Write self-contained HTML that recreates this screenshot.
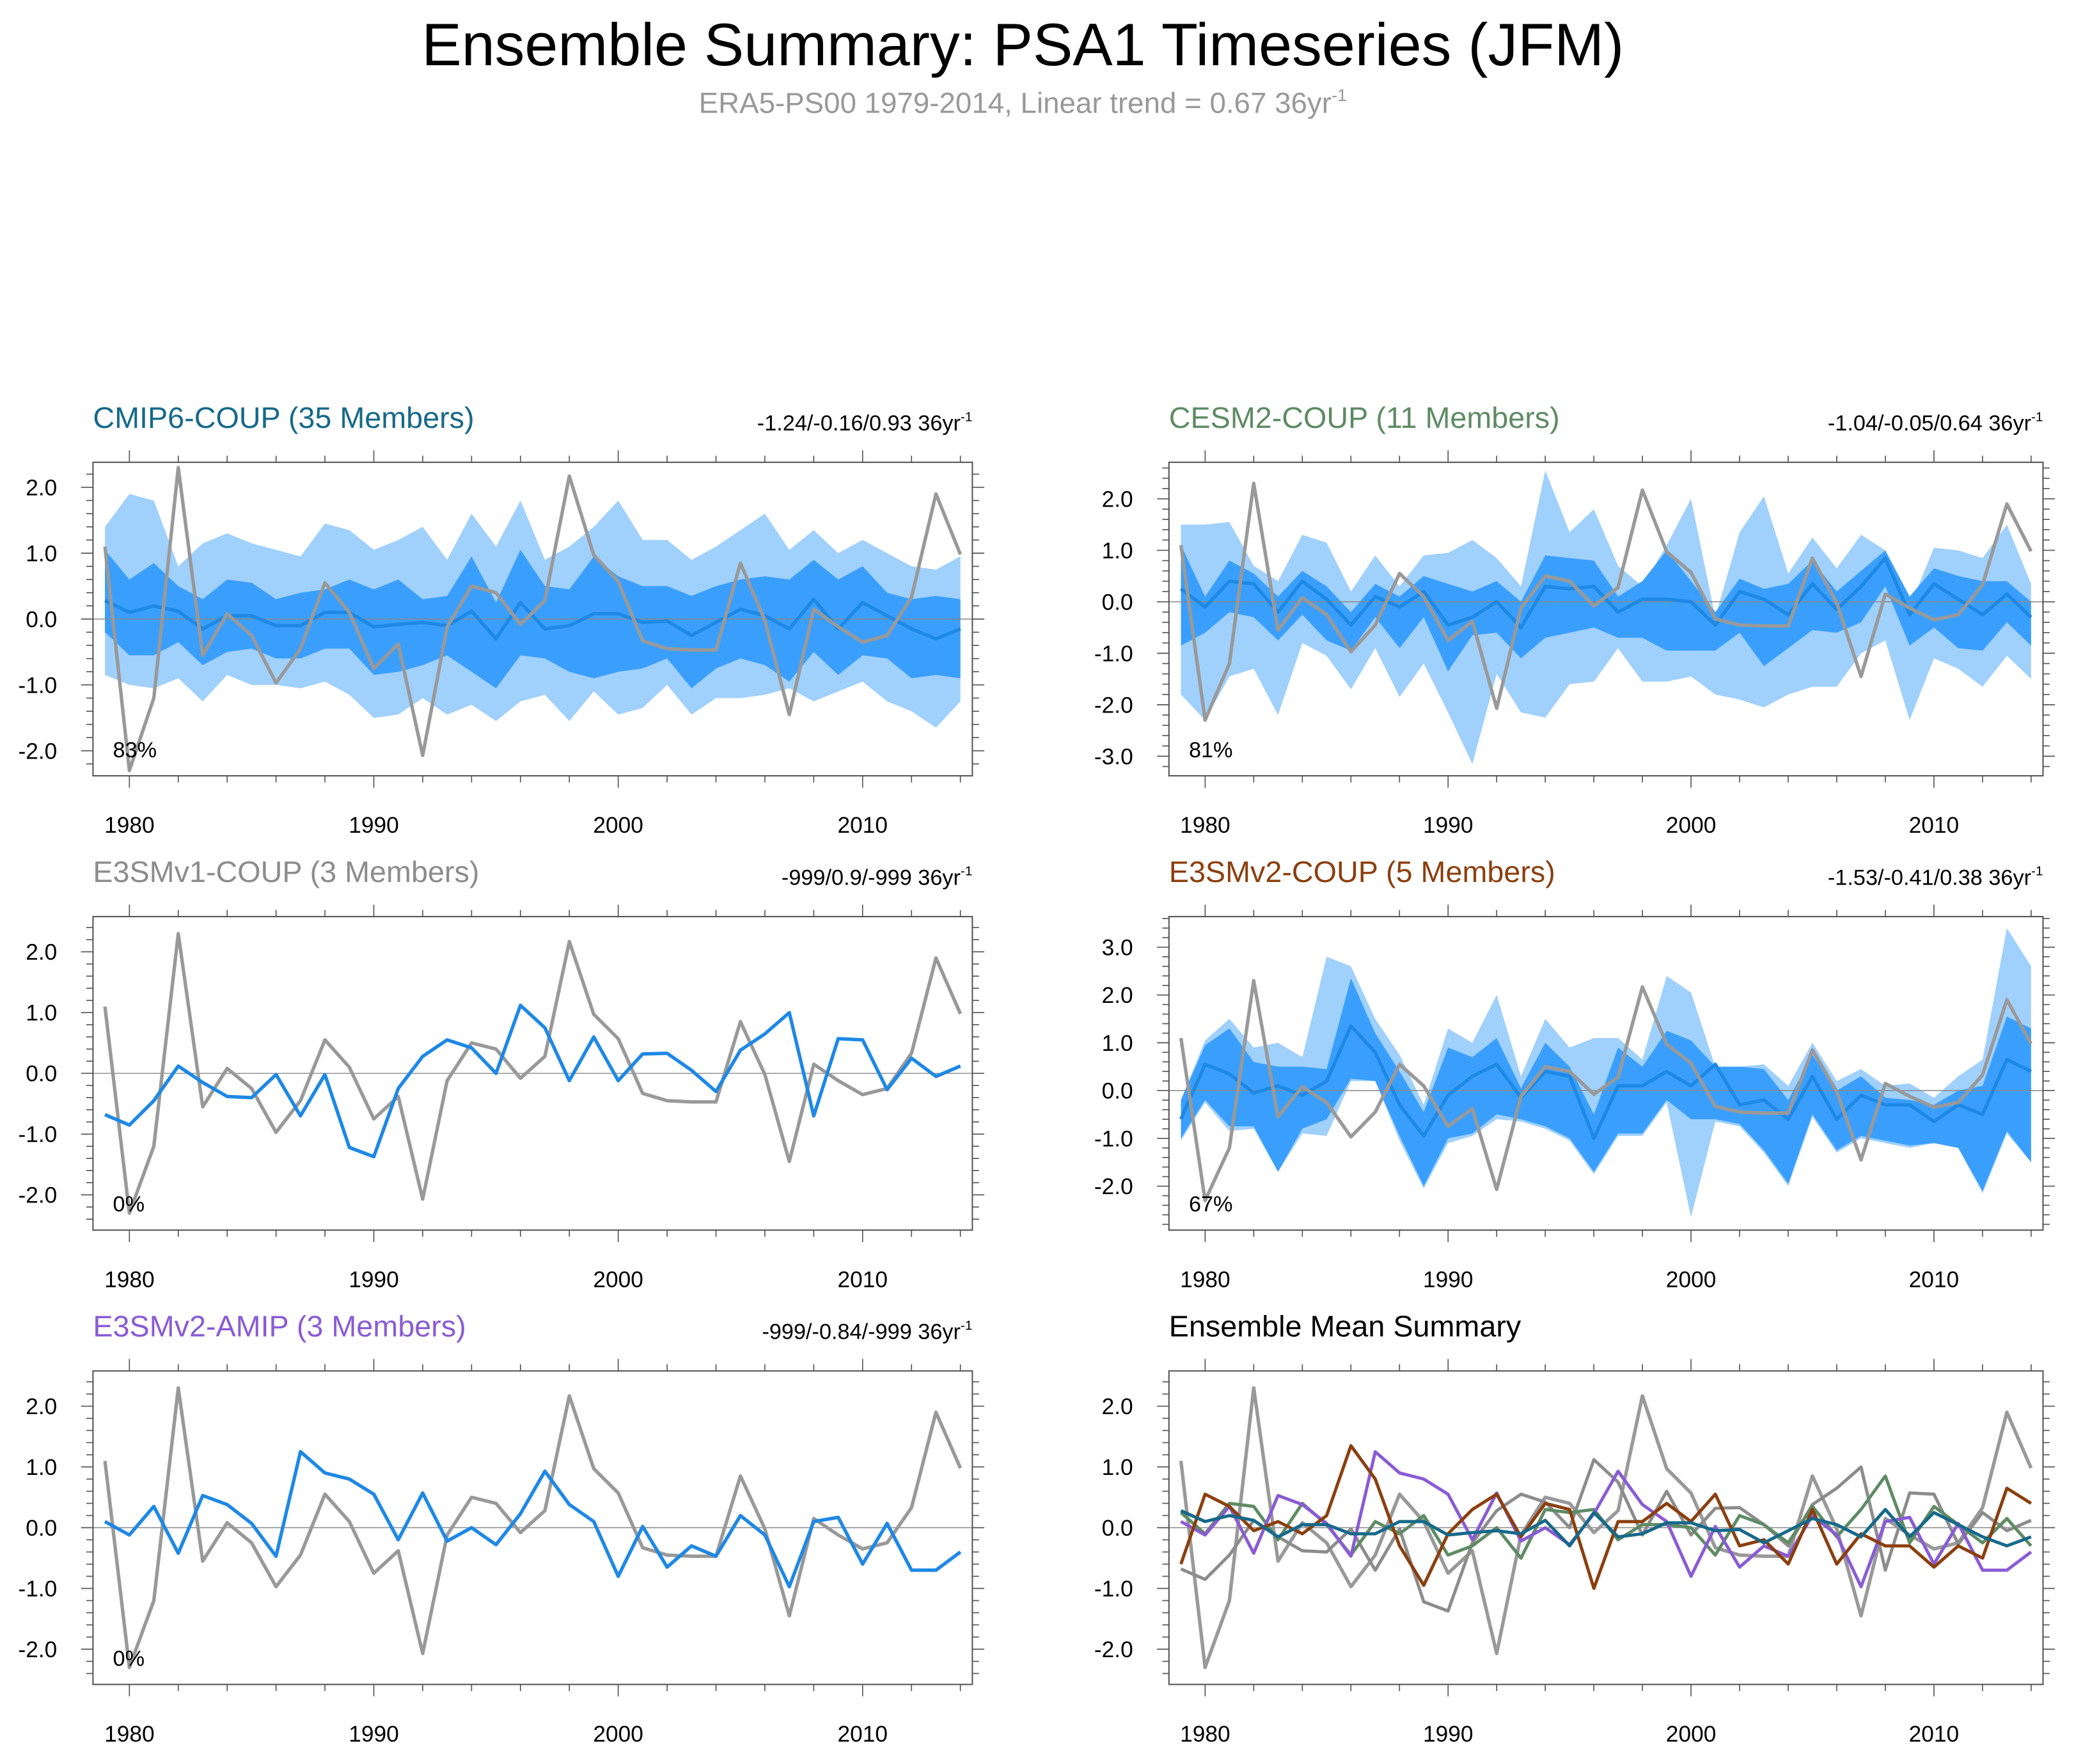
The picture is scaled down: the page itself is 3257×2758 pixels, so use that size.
<!DOCTYPE html>
<html><head><meta charset="utf-8"><style>
html,body{margin:0;padding:0;background:#fff}
svg{display:block}
text{font-family:"Liberation Sans",sans-serif}
</style></head><body>
<svg id="chart" width="3257" height="2758" viewBox="0 0 1568.1 1327.9" preserveAspectRatio="none" xmlns="http://www.w3.org/2000/svg">
<text x="770" y="49" text-anchor="middle" font-size="45" fill="#000">Ensemble Summary: PSA1 Timeseries (JFM)</text>
<text x="770" y="85" text-anchor="middle" font-size="22" fill="#999">ERA5-PS00 1979-2014, Linear trend = 0.67 36yr<tspan dy="-9" font-size="13">-1</tspan></text>
</svg>
<script>
const years = [];
for (let y = 1979; y <= 2014; y++) years.push(y);
const obs = [1.1,-2.3,-1.2,2.3,-0.55,0.08,-0.25,-0.97,-0.45,0.55,0.1,-0.75,-0.38,-2.07,-0.12,0.5,0.4,-0.08,0.28,2.17,0.97,0.57,-0.33,-0.45,-0.47,-0.47,0.85,-0.02,-1.45,0.15,-0.12,-0.35,-0.25,0.33,1.9,0.98];
const cmipMean = [0.28,0.1,0.2,0.12,-0.15,0.05,0.05,-0.1,-0.1,0.1,0.1,-0.12,-0.08,-0.05,-0.1,0.12,-0.3,0.25,-0.15,-0.1,0.08,0.08,-0.05,-0.03,-0.25,-0.05,0.15,0.05,-0.15,0.3,-0.15,0.25,0.05,-0.15,-0.3,-0.15];
const cmipOutHi = [1.4,1.9,1.8,0.8,1.15,1.3,1.15,1.05,0.95,1.45,1.35,1.05,1.2,1.4,0.9,1.6,1.1,1.8,0.9,1.1,1.4,1.8,1.2,1.2,0.9,1.1,1.35,1.6,1.05,1.35,1.0,1.2,1.0,0.8,0.75,0.95];
const cmipOutLo = [-0.85,-1.0,-1.05,-0.9,-1.25,-0.85,-1.0,-1.0,-1.05,-0.95,-1.15,-1.5,-1.45,-1.2,-1.45,-1.3,-1.55,-1.25,-1.15,-1.55,-1.1,-1.45,-1.35,-1.0,-1.45,-1.2,-1.2,-1.15,-1.05,-1.25,-1.1,-0.95,-1.25,-1.4,-1.65,-1.25];
const cmipInHi = [1.05,0.6,0.85,0.5,0.3,0.6,0.55,0.3,0.4,0.45,0.6,0.45,0.6,0.3,0.35,0.95,0.25,1.05,0.5,0.45,0.95,0.65,0.5,0.5,0.35,0.5,0.6,0.65,0.6,0.9,0.6,0.8,0.4,0.3,0.35,0.3];
const cmipInLo = [-0.2,-0.55,-0.55,-0.35,-0.7,-0.5,-0.45,-0.6,-0.6,-0.45,-0.45,-0.85,-0.8,-0.7,-0.55,-0.8,-1.05,-0.55,-0.6,-0.8,-0.9,-0.8,-0.75,-0.6,-1.05,-0.75,-0.6,-0.7,-0.95,-0.5,-0.85,-0.55,-0.6,-0.9,-0.85,-0.9];
const cesmMean = [0.25,-0.1,0.4,0.35,-0.2,0.4,0.05,-0.45,0.1,-0.1,0.2,-0.45,-0.3,0.0,-0.5,0.3,0.25,0.3,-0.2,0.05,0.05,0.0,-0.45,0.2,0.05,-0.25,0.35,-0.15,0.3,0.85,-0.25,0.35,0.05,-0.25,0.15,-0.3];
const cesmOutHi = [1.5,1.5,1.55,0.7,0.4,1.3,1.15,0.2,0.9,0.3,0.9,0.95,1.2,0.85,0.3,2.55,1.35,1.8,0.7,0.3,1.1,2.0,-0.3,1.35,2.05,0.55,1.25,0.65,1.3,1.0,-0.1,1.05,1.0,0.85,1.5,0.35];
const cesmOutLo = [-1.8,-2.3,-1.45,-1.3,-2.2,-0.8,-1.05,-1.7,-0.9,-1.85,-1.2,-2.15,-3.15,-1.4,-2.15,-2.25,-1.6,-1.55,-0.9,-1.55,-1.55,-1.45,-1.8,-1.9,-2.05,-1.8,-1.65,-1.65,-1.0,-0.75,-2.3,-1.1,-1.3,-1.65,-1.05,-1.5];
const cesmInHi = [1.1,0.1,0.8,0.55,0.1,0.6,0.3,-0.2,0.35,0.1,0.5,0.35,0.2,0.4,0.0,0.9,0.85,0.8,0.1,0.4,1.0,0.4,-0.2,0.45,0.25,0.35,0.8,0.2,0.6,1.0,0.1,0.65,0.5,0.4,0.4,0.0];
const cesmInLo = [-0.85,-0.6,-0.2,-0.3,-0.75,-0.25,-0.75,-0.95,-0.3,-0.9,-0.3,-1.35,-0.65,-0.6,-1.1,-0.7,-0.6,-0.5,-0.7,-0.7,-0.95,-0.95,-0.95,-0.6,-1.25,-0.9,-0.55,-0.6,-0.4,0.3,-0.85,-0.5,-0.9,-0.95,-0.4,-0.85];
const v1Mean = [-0.68,-0.85,-0.45,0.12,-0.15,-0.38,-0.4,-0.02,-0.7,-0.02,-1.22,-1.37,-0.25,0.28,0.55,0.42,0.0,1.12,0.75,-0.12,0.6,-0.12,0.32,0.33,0.05,-0.3,0.38,0.65,1.0,-0.7,0.57,0.55,-0.27,0.25,-0.05,0.12];
const v2Mean = [-0.6,0.55,0.35,-0.05,0.1,-0.1,0.2,1.35,0.8,-0.3,-0.95,-0.1,0.3,0.55,-0.15,0.4,0.3,-1.0,0.1,0.1,0.4,0.1,0.55,-0.3,-0.2,-0.6,0.3,-0.6,-0.1,-0.3,-0.3,-0.65,-0.3,-0.5,0.65,0.4];
const v2OutHi = [-0.2,1.05,1.5,0.9,1.0,0.7,2.8,2.6,1.5,0.75,-0.3,1.3,1.0,2.0,0.3,1.5,0.9,1.1,1.1,0.65,2.4,2.05,0.5,0.5,0.55,0.1,1.0,0.2,0.45,0.1,0.15,-0.15,0.3,0.65,3.4,2.6];
const v2OutLo = [-1.05,-0.25,-0.85,-0.8,-1.7,-0.9,-0.95,0.2,0.2,-1.05,-2.05,-1.1,-0.95,-0.6,-0.65,-0.8,-1.05,-1.75,-0.95,-0.95,-0.25,-2.65,-0.65,-0.75,-1.3,-2.0,-0.55,-1.3,-1.0,-1.1,-1.2,-1.1,-1.2,-2.15,-0.9,-1.5];
const v2InHi = [-0.2,0.95,1.3,0.6,0.5,0.5,0.45,2.35,1.2,0.4,-0.45,0.9,0.7,1.1,0.05,1.0,0.5,-0.5,0.9,0.5,1.25,1.05,0.5,0.5,0.45,-0.2,0.75,0.0,0.3,-0.15,-0.2,-0.3,0.0,0.1,1.55,1.3];
const v2InLo = [-1.0,-0.2,-0.75,-0.75,-1.7,-0.8,-0.6,0.25,0.2,-0.95,-2.0,-1.0,-0.9,-0.5,-0.6,-0.75,-1.0,-1.7,-0.9,-0.9,-0.2,-0.6,-0.6,-0.7,-1.25,-1.95,-0.5,-1.25,-0.95,-1.05,-1.15,-1.1,-1.2,-2.1,-0.85,-1.5];
const amipMean = [0.1,-0.12,0.35,-0.42,0.53,0.38,0.07,-0.47,1.25,0.9,0.8,0.55,-0.2,0.57,-0.22,0.0,-0.28,0.23,0.93,0.38,0.1,-0.8,0.02,-0.65,-0.3,-0.47,0.2,-0.12,-0.97,0.1,0.17,-0.6,0.07,-0.7,-0.7,-0.4];
const xTickLabels = [1980,1990,2000,2010];

const NS = "http://www.w3.org/2000/svg";
const svg = document.getElementById('chart');
const LIGHT = "#a0d0fc", DARK = "#3a9ffc", MEANC = "#1e88e5", OBSC = "#999999";

function mk(tag, attrs, parent) {
  const e = document.createElementNS(NS, tag);
  for (const k in attrs) e.setAttribute(k, attrs[k]);
  (parent || svg).appendChild(e);
  return e;
}

function panel(cfg) {
  const g = mk('g', {});
  
  
  const xMin = 1978.51, xMax = 2014.49;
  const X = v => cfg.x0 + (v - xMin) / (xMax - xMin) * (cfg.x1 - cfg.x0);
  const Y = v => cfg.y1 - (v - cfg.yMin) / (cfg.yMax - cfg.yMin) * (cfg.y1 - cfg.y0);
  const clipId = 'clip-' + cfg.name;
  const cp = mk('clipPath', {id: clipId}, g);
  mk('rect', {x: cfg.x0, y: cfg.y0, width: cfg.x1 - cfg.x0, height: cfg.y1 - cfg.y0}, cp);
  const inner = mk('g', {'clip-path': 'url(#' + clipId + ')'}, g);
  const band = (hi, lo, col, nm) => {
    let d = '';
    hi.forEach((v, i) => d += (i ? 'L' : 'M') + X(years[i]).toFixed(1) + ',' + Y(v).toFixed(1));
    for (let i = lo.length - 1; i >= 0; i--) d += 'L' + X(years[i]).toFixed(1) + ',' + Y(lo[i]).toFixed(1);
    const p = mk('path', {d: d + 'Z', fill: col}, inner);
    
    
  };
  if (cfg.outHi) band(cfg.outHi, cfg.outLo, LIGHT, 'outer-spread-band');
  if (cfg.inHi) band(cfg.inHi, cfg.inLo, DARK, 'inner-spread-band');
  const zl = mk('line', {x1: cfg.x0, x2: cfg.x1, y1: Y(0), y2: Y(0), stroke: '#888', 'stroke-width': 0.7}, inner);
  
  
  const line = (arr, col, w, nm) => {
    const pts = arr.map((v, i) => X(years[i]).toFixed(1) + ',' + Y(v).toFixed(1)).join(' ');
    const p = mk('polyline', {points: pts, fill: 'none', stroke: col, 'stroke-width': w, 'stroke-linejoin': 'round'}, inner);
    
    
  };
  cfg.lines.forEach(l => line(l.data, l.col, l.w, l.name));
  const box = mk('rect', {x: cfg.x0, y: cfg.y0, width: cfg.x1 - cfg.x0, height: cfg.y1 - cfg.y0, fill: 'none', stroke: '#555', 'stroke-width': 1}, g);
  
  
  for (let yr = 1979; yr <= 2014; yr++) {
    if (yr % 2) continue;
    const major = yr % 10 === 0;
    const L = major ? 9 : 5;
    mk('line', {x1: X(yr), x2: X(yr), y1: cfg.y1, y2: cfg.y1 + L, stroke: '#555', 'stroke-width': 0.8}, g);
    mk('line', {x1: X(yr), x2: X(yr), y1: cfg.y0, y2: cfg.y0 - L, stroke: '#555', 'stroke-width': 0.8}, g);
  }
  xTickLabels.forEach(yr => {
    const t = mk('text', {x: X(yr), y: cfg.y1 + 43, 'text-anchor': 'middle', 'font-size': 17}, g);
    t.textContent = yr;
    
    
  });
  for (let k = Math.ceil(cfg.yMin * 5); k <= Math.floor(cfg.yMax * 5); k++) {
    const v = k / 5, major = k % 5 === 0, L = major ? 9 : 5;
    mk('line', {x1: cfg.x0, x2: cfg.x0 - L, y1: Y(v), y2: Y(v), stroke: '#555', 'stroke-width': 0.8}, g);
    mk('line', {x1: cfg.x1, x2: cfg.x1 + L, y1: Y(v), y2: Y(v), stroke: '#555', 'stroke-width': 0.8}, g);
    if (major) {
      const t = mk('text', {x: cfg.x0 - 27, y: Y(v) + 6, 'text-anchor': 'end', 'font-size': 17}, g);
      t.textContent = v.toFixed(1);
      
      
    }
  }
  const tt = mk('text', {x: cfg.x0, y: cfg.y0 - 26, 'font-size': 22.5, fill: cfg.titleCol}, g);
  tt.textContent = cfg.title;
  
  
  if (cfg.trend) {
    const tr = mk('text', {x: cfg.x1, y: cfg.y0 - 24, 'text-anchor': 'end', 'font-size': 16.5}, g);
    tr.innerHTML = cfg.trend + ' 36yr<tspan dy="-7" font-size="10">-1</tspan>';
    
    
  }
  if (cfg.pct) {
    const pt = mk('text', {x: cfg.x0 + 15, y: cfg.y1 - 14, 'font-size': 16.5}, g);
    pt.textContent = cfg.pct;
    
    
  }
}

const obsLine = {data: obs, col: OBSC, w: 2.6, name: 'obs-line'};
panel({name: 'cmip6-panel', x0: 70, x1: 732, y0: 348, y1: 584, yMin: -2.38, yMax: 2.38, title: 'CMIP6-COUP (35 Members)', titleCol: '#16698a', trend: '-1.24/-0.16/0.93', pct: '83%',
  outHi: cmipOutHi, outLo: cmipOutLo, inHi: cmipInHi, inLo: cmipInLo,
  lines: [{data: cmipMean, col: MEANC, w: 2.6, name: 'ensemble-mean-line'}, obsLine]});
panel({name: 'cesm2-panel', x0: 880, x1: 1538, y0: 348, y1: 584, yMin: -3.38, yMax: 2.71, title: 'CESM2-COUP (11 Members)', titleCol: '#5e8b64', trend: '-1.04/-0.05/0.64', pct: '81%',
  outHi: cesmOutHi, outLo: cesmOutLo, inHi: cesmInHi, inLo: cesmInLo,
  lines: [{data: cesmMean, col: MEANC, w: 2.6, name: 'ensemble-mean-line'}, obsLine]});
panel({name: 'e3smv1-panel', x0: 70, x1: 732, y0: 690, y1: 926, yMin: -2.58, yMax: 2.58, title: 'E3SMv1-COUP (3 Members)', titleCol: '#8c8c8c', trend: '-999/0.9/-999', pct: '0%',
  lines: [obsLine, {data: v1Mean, col: MEANC, w: 2.6, name: 'ensemble-mean-line'}]});
panel({name: 'e3smv2-coup-panel', x0: 880, x1: 1538, y0: 690, y1: 926, yMin: -2.92, yMax: 3.64, title: 'E3SMv2-COUP (5 Members)', titleCol: '#8b3f0e', trend: '-1.53/-0.41/0.38', pct: '67%',
  outHi: v2OutHi, outLo: v2OutLo, inHi: v2InHi, inLo: v2InLo,
  lines: [{data: v2Mean, col: MEANC, w: 2.6, name: 'ensemble-mean-line'}, obsLine]});
panel({name: 'e3smv2-amip-panel', x0: 70, x1: 732, y0: 1032, y1: 1268, yMin: -2.58, yMax: 2.58, title: 'E3SMv2-AMIP (3 Members)', titleCol: '#8a5bd5', trend: '-999/-0.84/-999', pct: '0%',
  lines: [obsLine, {data: amipMean, col: MEANC, w: 2.6, name: 'ensemble-mean-line'}]});
panel({name: 'ensemble-mean-summary-panel', x0: 880, x1: 1538, y0: 1032, y1: 1268, yMin: -2.58, yMax: 2.58, title: 'Ensemble Mean Summary', titleCol: '#000',
  lines: [obsLine,
    {data: v1Mean, col: '#8c8c8c', w: 2.4, name: 'e3smv1-mean-line'},
    {data: cesmMean, col: '#5e8b64', w: 2.4, name: 'cesm2-mean-line'},
    {data: amipMean, col: '#8a5bd5', w: 2.4, name: 'e3smv2-amip-mean-line'},
    {data: v2Mean, col: '#8b3f0e', w: 2.4, name: 'e3smv2-coup-mean-line'},
    {data: cmipMean, col: '#16698a', w: 2.4, name: 'cmip6-mean-line'}]});
</script>
</body></html>
